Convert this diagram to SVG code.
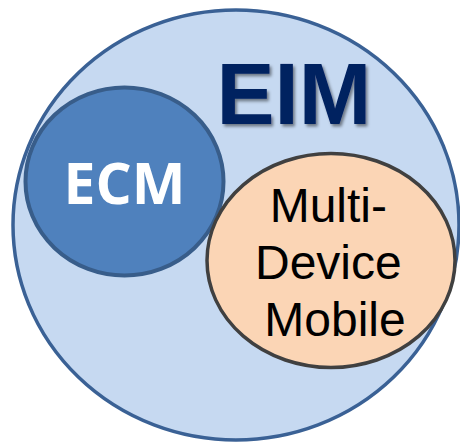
<svg xmlns="http://www.w3.org/2000/svg" width="460" height="442" viewBox="0 0 460 442">
  <defs>
    <filter id="shadow" x="-10%" y="-10%" width="130%" height="130%">
      <feDropShadow dx="2" dy="2.5" stdDeviation="1.5" flood-color="#000000" flood-opacity="0.45"/>
    </filter>
  </defs>
  <style>
    .outer { fill: #c6d9f1; stroke: #3a6195; stroke-width: 3.5; }
    .ecm { fill: #4f81bd; stroke: #385d8a; stroke-width: 4; }
    .mdm { fill: #fbd5b5; stroke: #404040; stroke-width: 3.5; }
    .eim-label { font-family: "Liberation Sans", Arial, sans-serif; font-weight: bold; font-size: 87px; fill: #002060; }
    .ecm-label { font-family: "Open Sans", "Liberation Sans", sans-serif; font-weight: bold; font-size: 57px; fill: #ffffff; }
    .mdm-label { font-family: "Liberation Sans", Arial, sans-serif; font-size: 48px; fill: #000000; }
  </style>
  <g id="eim">
    <ellipse class="outer" cx="236" cy="225" rx="223" ry="215"/>
    <text class="eim-label" x="216.5" y="124" filter="url(#shadow)">EIM</text>
  </g>
  <g id="ecm">
    <ellipse class="ecm" cx="124.5" cy="181.5" rx="99" ry="94"/>
    <text class="ecm-label" x="124.5" y="204" text-anchor="middle">ECM</text>
  </g>
  <g id="multi-device-mobile">
    <ellipse class="mdm" cx="331" cy="260.5" rx="124" ry="107"/>
    <text class="mdm-label" text-anchor="middle">
      <tspan x="335" y="222">Multi-</tspan>
      <tspan x="335" y="279">Device</tspan>
      <tspan x="335" y="336">Mobile</tspan>
    </text>
  </g>
  <g id="connectors"/>
</svg>
